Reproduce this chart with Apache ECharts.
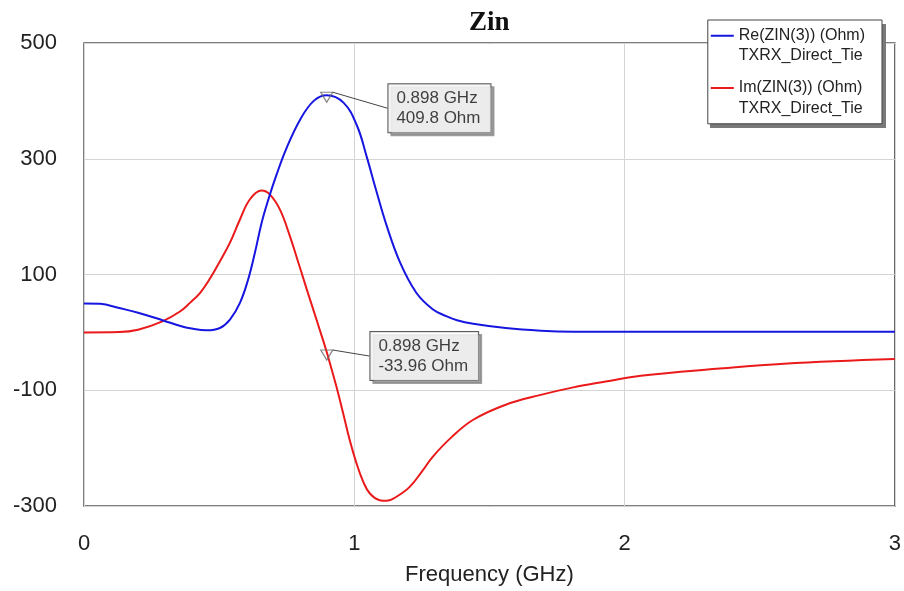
<!DOCTYPE html>
<html>
<head>
<meta charset="utf-8">
<title>Zin</title>
<script src="https://cdn.jsdelivr.net/npm/echarts@6/dist/echarts.min.js"></script>
<style>
html, body { margin: 0; padding: 0; background: #fff; }
#chart { width: 904px; height: 591px; }
</style>
</head>
<body>
<div id="chart"></div>
<script>
// Re(ZIN(3)) - frequency in GHz, value in Ohm
var reFreq = [0, 0.06, 0.13, 0.2, 0.29, 0.36, 0.392, 0.454, 0.503, 0.54, 0.577, 0.607, 0.632, 0.657, 0.681, 0.712, 0.749,
    0.8, 0.85, 0.898, 0.96, 1.01, 1.045, 1.08, 1.12, 1.17, 1.23, 1.29, 1.34, 1.38, 1.44, 1.56, 1.69, 1.81, 2.0, 2.5, 3.0];
var reValues = [50, 49.5, 42, 34, 21, 10.5, 7, 3.5, 7.6, 22, 51, 91, 137, 189, 228, 272, 318,
    368, 400, 409.8, 397, 357, 305, 247, 184, 120, 68, 40, 28, 21, 15, 7.6, 3, 1.2, 1, 1, 1];

// Im(ZIN(3))
var imFreq = [0, 0.13, 0.2, 0.29, 0.355, 0.392, 0.429, 0.466, 0.503, 0.54, 0.577, 0.614, 0.657, 0.688, 0.725, 0.762,
    0.792, 0.805, 0.823, 0.845, 0.882, 0.898, 0.909, 0.934, 0.959, 0.983, 1.008, 1.033, 1.057, 1.094, 1.119, 1.156,
    1.205, 1.254, 1.29, 1.36, 1.44, 1.56, 1.69, 1.81, 1.93, 2.06, 2.34, 2.59, 3.0];
var imValues = [0, 0.5, 4.5, 19, 36, 51, 68, 93, 123, 155, 195, 230, 245, 238, 212, 166,
    122, 103, 76, 44, -10, -33.96, -52, -94, -140, -186, -226, -258, -278, -290, -291, -284,
    -267, -238, -215, -181, -151, -125, -108, -95, -85, -75, -63, -54, -46];

// markers
var markerFreq = 0.898;
var markerRe = 409.8;
var markerIm = -33.96;

var seriesNames = ['Re(ZIN(3)) (Ohm)\nTXRX_Direct_Tie', 'Im(ZIN(3)) (Ohm)\nTXRX_Direct_Tie'];

function pairs(xs, ys) {
    var out = [];
    for (var i = 0; i < xs.length; i++) {
        out.push([xs[i], ys[i]]);
    }
    return out;
}

var font = '"Liberation Sans", Arial, sans-serif';

function markerSeries(value, dx, dy, offY) {
    return {
        type: 'scatter',
        data: [[markerFreq, value]],
        symbol: 'triangle',
        symbolRotate: 180,
        symbolSize: [12, 10],
        symbolOffset: [0, offY],
        itemStyle: { color: 'rgba(255,255,255,0)', borderColor: '#666', borderWidth: 1.2 },
        z: 5,
        silent: true,
        label: {
            show: true,
            position: 'right',
            distance: 0,
            formatter: function (p) {
                return p.value[0] + ' GHz\n' + p.value[1] + ' Ohm';
            },
            fontFamily: font,
            fontSize: 17,
            lineHeight: 20,
            color: '#111',
            backgroundColor: '#fff',
            borderColor: '#333',
            borderWidth: 1,
            padding: [4, 10, 4, 8],
            shadowColor: '#8a8a8a',
            shadowOffsetX: 3,
            shadowOffsetY: 3,
            shadowBlur: 0
        },
        labelLayout: { dx: dx, dy: dy },
        labelLine: { show: true, lineStyle: { color: '#444', width: 1 } }
    };
}

var chart = echarts.init(document.getElementById('chart'));

var option = {
    animation: false,
    color: ['#1616e0', '#ea1a1a'],
    title: {
        text: 'Zin',
        left: 464,
        top: 5,
        textStyle: { fontFamily: '"Liberation Serif", "Times New Roman", serif', fontWeight: 'bold', fontSize: 27, color: '#111' }
    },
    // legend drop shadow
    graphic: [{
        type: 'rect',
        right: 18,
        top: 24,
        z: 1,
        shape: { width: 176, height: 104 },
        style: { fill: '#7a7a7a' }
    }],
    legend: {
        data: seriesNames,
        orient: 'vertical',
        right: 22,
        top: 20,
        z: 5,
        align: 'left',
        padding: [5, 17, 5, 3],
        itemGap: 11,
        itemWidth: 23,
        itemHeight: 40,
        icon: 'path://M0,0H0.01V0.01H0Z M0,9H23V11H0Z M0,40H0.01V40.01H0Z',
        backgroundColor: '#fff',
        borderColor: '#444',
        borderWidth: 1,
        textStyle: { fontFamily: font, fontSize: 16, lineHeight: 20.7, color: '#222' }
    },
    grid: {
        left: 84,
        right: 9,
        top: 43,
        bottom: 85,
        show: true,
        borderColor: '#555',
        borderWidth: 1.5
    },
    xAxis: {
        type: 'value',
        min: 0,
        max: 3,
        interval: 1,
        name: 'Frequency (GHz)',
        nameLocation: 'middle',
        nameGap: 58,
        nameTextStyle: { fontFamily: font, fontSize: 22, color: '#222' },
        axisLine: { show: false },
        axisTick: { show: false },
        axisLabel: { fontFamily: font, fontSize: 22, color: '#222', margin: 27 },
        splitLine: { show: true, lineStyle: { color: '#d4d4d4', width: 1 } }
    },
    yAxis: {
        type: 'value',
        min: -300,
        max: 500,
        interval: 200,
        axisLine: { show: false },
        axisTick: { show: false },
        axisLabel: { fontFamily: font, fontSize: 22, color: '#222', margin: 27, padding: [6, 0, 0, 0] },
        splitLine: { show: true, lineStyle: { color: '#d4d4d4', width: 1 } }
    },
    series: [
        {
            name: seriesNames[0],
            type: 'line',
            data: pairs(reFreq, reValues),
            smooth: 0.4,
            showSymbol: false,
            lineStyle: { width: 2 },
            z: 3
        },
        {
            name: seriesNames[1],
            type: 'line',
            data: pairs(imFreq, imValues),
            smooth: 0.4,
            showSymbol: false,
            lineStyle: { width: 2 },
            z: 2
        },
        markerSeries(markerRe, 55, 11, 2),
        markerSeries(markerIm, 37, 1, 3)
    ]
};

chart.setOption(option);
</script>
</body>
</html>
